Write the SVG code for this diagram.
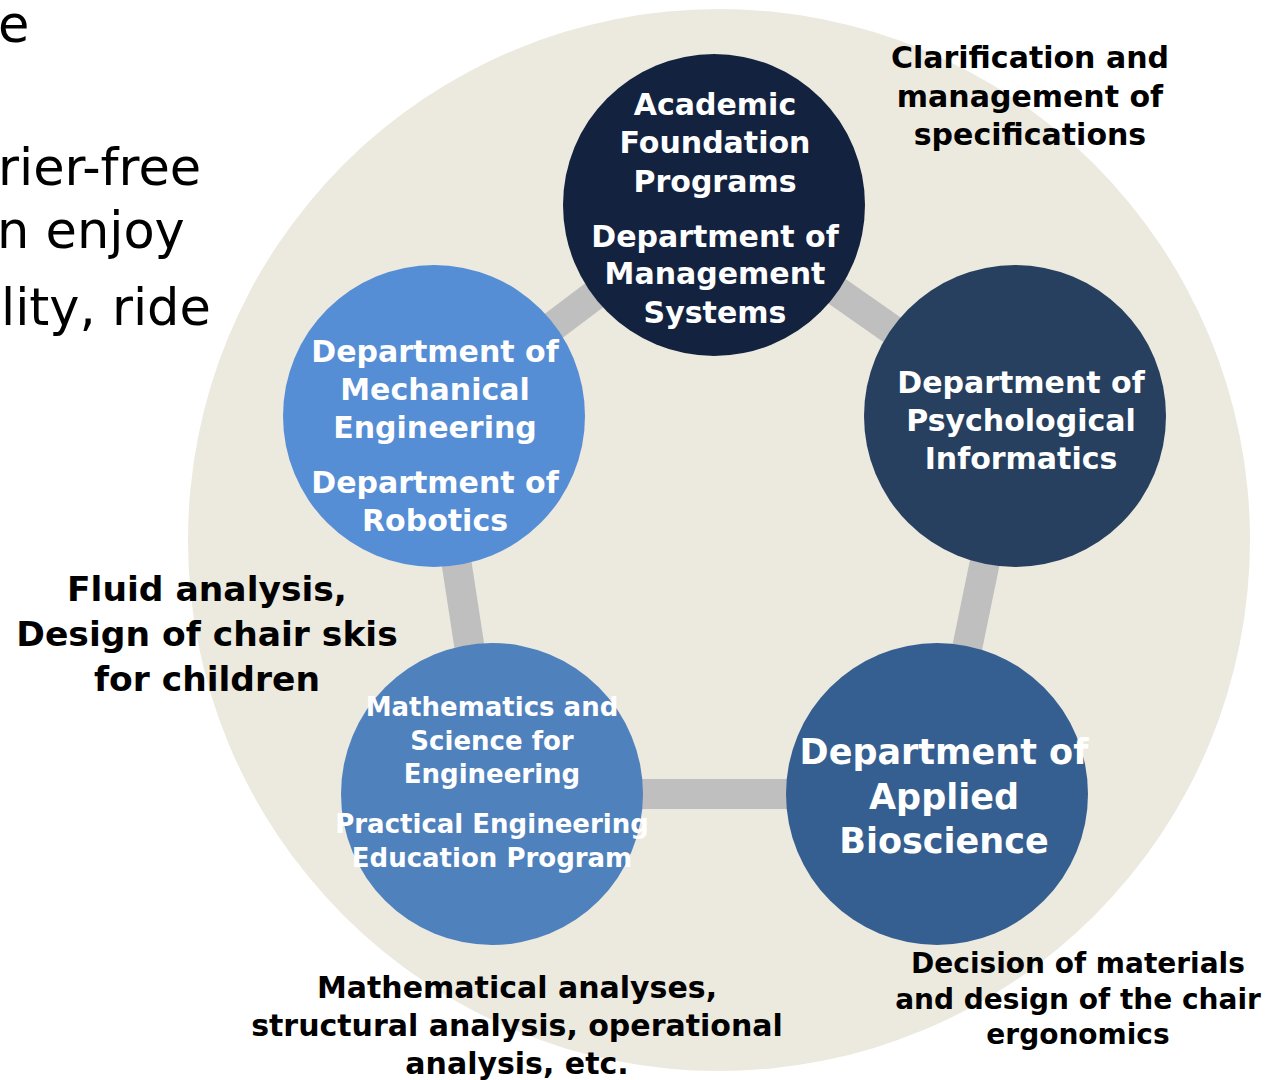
<svg xmlns="http://www.w3.org/2000/svg" width="1276" height="1080" viewBox="0 0 1276 1080">
<style>
.bg{fill:#ffffff}
.node text{font-family:"DejaVu Sans",Verdana,sans-serif;font-weight:bold;fill:#ffffff;text-anchor:middle}
.lbl{font-family:"DejaVu Sans",Verdana,sans-serif;font-weight:bold;fill:#000000;text-anchor:middle}
.side{font-family:"DejaVu Sans",Verdana,sans-serif;fill:#000000;font-size:51px}
.conn line{stroke:#bfbfbf;stroke-width:30}
</style>
<rect class="bg" x="0" y="0" width="1276" height="1080"/>
<g id="side-text">
<text class="side" x="-2" y="42">e</text>
<text class="side" x="-2" y="185">rier-free</text>
<text class="side" x="-3" y="248">n enjoy</text>
<text class="side" x="1" y="325">lity, ride</text>
</g>
<circle id="backdrop" cx="719" cy="540" r="531" fill="#ecE9df"/>
<g id="connectors" class="conn">
<line x1="714" y1="205" x2="1015" y2="416"/>
<line x1="1015" y1="416" x2="937" y2="794"/>
<line x1="937" y1="794" x2="492" y2="794"/>
<line x1="492" y1="794" x2="434" y2="416"/>
<line x1="434" y1="416" x2="714" y2="205"/>
</g>
<g id="node-academic" class="node">
<circle cx="714" cy="205" r="151" fill="#13233f"/>
<text font-size="30"><tspan x="715" y="115">Academic</tspan><tspan x="715" y="153">Foundation</tspan><tspan x="715" y="192">Programs</tspan><tspan x="715" y="247">Department of</tspan><tspan x="715" y="284">Management</tspan><tspan x="715" y="323">Systems</tspan></text>
</g>
<g id="node-psych" class="node">
<circle cx="1015" cy="416" r="151" fill="#27405f"/>
<text font-size="30"><tspan x="1021" y="393">Department of</tspan><tspan x="1021" y="431">Psychological</tspan><tspan x="1021" y="469">Informatics</tspan></text>
</g>
<g id="node-bio" class="node">
<circle cx="937" cy="794" r="151" fill="#365f91"/>
<text font-size="35"><tspan x="944" y="764">Department of</tspan><tspan x="944" y="809">Applied</tspan><tspan x="944" y="853">Bioscience</tspan></text>
</g>
<g id="node-math" class="node">
<circle cx="492" cy="794" r="151" fill="#4f81bd"/>
<text font-size="26"><tspan x="492" y="716">Mathematics and</tspan><tspan x="492" y="750">Science for</tspan><tspan x="492" y="783">Engineering</tspan><tspan x="492" y="833">Practical Engineering</tspan><tspan x="492" y="867">Education Program</tspan></text>
</g>
<g id="node-mech" class="node">
<circle cx="434" cy="416" r="151" fill="#558ed5"/>
<text font-size="30"><tspan x="435" y="362">Department of</tspan><tspan x="435" y="400">Mechanical</tspan><tspan x="435" y="438">Engineering</tspan><tspan x="435" y="493">Department of</tspan><tspan x="435" y="531">Robotics</tspan></text>
</g>
<g id="labels">
<text class="lbl" font-size="30"><tspan x="1030" y="68">Clarification and</tspan><tspan x="1030" y="107">management of</tspan><tspan x="1030" y="145">specifications</tspan></text>
<text class="lbl" font-size="34.5"><tspan x="207" y="601">Fluid analysis,</tspan><tspan x="207" y="646">Design of chair skis</tspan><tspan x="207" y="691">for children</tspan></text>
<text class="lbl" font-size="30"><tspan x="517" y="998">Mathematical analyses,</tspan><tspan x="517" y="1036">structural analysis, operational</tspan><tspan x="517" y="1074">analysis, etc.</tspan></text>
<text class="lbl" font-size="28"><tspan x="1078" y="973">Decision of materials</tspan><tspan x="1078" y="1009">and design of the chair</tspan><tspan x="1078" y="1044">ergonomics</tspan></text>
</g>
</svg>
